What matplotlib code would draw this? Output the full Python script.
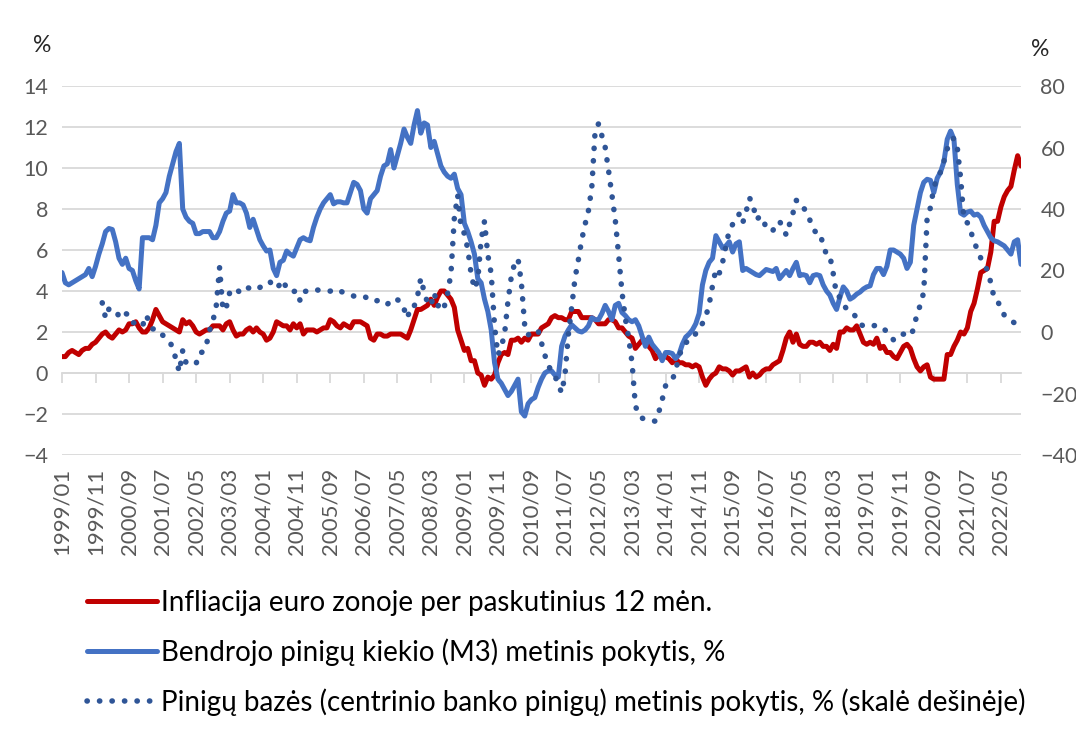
import numpy as np
import pandas as pd
import matplotlib.pyplot as plt

plt.rcParams['font.family'] = ['Lato', 'DejaVu Sans']

# --- data (monthly, 1999/01 .. 2022/11) ---
months = pd.period_range('1999-01', '2022-11', freq='M')
month_labels = [p.strftime('%Y/%m') for p in months]

# HICP inflation, % (left axis)
inflation = [
    0.8, 0.8, 1.0, 1.1, 1.0, 0.9, 1.1, 1.2, 1.2, 1.4, 1.5, 1.7,
    1.9, 2.0, 1.8, 1.7, 1.9, 2.1, 2.0, 2.1, 2.4, 2.4, 2.5, 2.2,
    2.0, 2.0, 2.2, 2.6, 3.1, 2.8, 2.5, 2.4, 2.3, 2.2, 2.1, 2.0,
    2.6, 2.4, 2.5, 2.3, 2.0, 1.9, 2.0, 2.1, 2.1, 2.3, 2.3, 2.3,
    2.1, 2.4, 2.5, 2.1, 1.8, 1.9, 1.9, 2.1, 2.2, 2.0, 2.2, 2.0,
    1.9, 1.6, 1.7, 2.0, 2.5, 2.4, 2.3, 2.3, 2.1, 2.4, 2.2, 2.4,
    1.9, 2.1, 2.1, 2.1, 2.0, 2.1, 2.2, 2.2, 2.6, 2.5, 2.3, 2.2,
    2.4, 2.3, 2.2, 2.5, 2.5, 2.5, 2.4, 2.3, 1.7, 1.6, 1.9, 1.9,
    1.8, 1.8, 1.9, 1.9, 1.9, 1.9, 1.8, 1.7, 2.1, 2.6, 3.1, 3.1,
    3.2, 3.3, 3.6, 3.3, 3.7, 4.0, 4.0, 3.8, 3.6, 3.2, 2.1, 1.6,
    1.1, 1.2, 0.6, 0.6, 0.0, -0.1, -0.6, -0.2, -0.3, -0.1, 0.5, 0.9,
    1.0, 0.9, 1.6, 1.6, 1.7, 1.5, 1.7, 1.6, 1.9, 1.9, 1.9, 2.2,
    2.3, 2.4, 2.7, 2.8, 2.7, 2.7, 2.6, 2.6, 3.0, 3.0, 3.0, 2.7,
    2.7, 2.7, 2.7, 2.6, 2.4, 2.4, 2.4, 2.6, 2.6, 2.5, 2.2, 2.2,
    2.0, 1.8, 1.7, 1.2, 1.4, 1.6, 1.6, 1.3, 1.1, 0.7, 0.9, 0.8,
    0.8, 0.7, 0.5, 0.7, 0.5, 0.5, 0.4, 0.4, 0.3, 0.4, 0.3, -0.2,
    -0.6, -0.3, -0.1, 0.0, 0.3, 0.2, 0.2, 0.1, -0.1, 0.1, 0.1, 0.2,
    0.3, -0.2, 0.0, -0.2, -0.1, 0.1, 0.2, 0.2, 0.4, 0.5, 0.6, 1.1,
    1.7, 2.0, 1.5, 1.9, 1.4, 1.3, 1.3, 1.5, 1.5, 1.4, 1.5, 1.3,
    1.3, 1.1, 1.4, 1.2, 2.0, 2.0, 2.2, 2.1, 2.1, 2.3, 1.9, 1.5,
    1.4, 1.5, 1.4, 1.7, 1.2, 1.3, 1.0, 1.0, 0.8, 0.7, 1.0, 1.3,
    1.4, 1.2, 0.7, 0.3, 0.1, 0.3, 0.4, -0.2, -0.3, -0.3, -0.3, -0.3,
    0.9, 0.9, 1.3, 1.6, 2.0, 1.9, 2.2, 3.0, 3.4, 4.1, 4.9, 5.0,
    5.1, 5.9, 7.4, 7.4, 8.1, 8.6, 8.9, 9.1, 9.9, 10.6, 10.1,
]

# M3 annual growth, % (left axis)
m3_growth = [
    4.9, 4.4, 4.3, 4.4, 4.5, 4.6, 4.7, 4.8, 5.1, 4.7, 5.2, 5.8,
    6.3, 6.9, 7.05, 7.0, 6.4, 5.6, 5.3, 5.6, 5.1, 5.0, 4.5, 4.1,
    6.6, 6.6, 6.6, 6.5, 7.2, 8.3, 8.5, 8.8, 9.6, 10.2, 10.8, 11.2,
    8.0, 7.6, 7.4, 7.3, 6.8, 6.8, 6.9, 6.9, 6.9, 6.6, 6.6, 6.9,
    7.4, 7.8, 7.9, 8.7, 8.3, 8.3, 8.2, 7.8, 7.1, 7.5, 7.0, 6.5,
    6.2, 5.95, 6.0, 5.1, 4.75, 5.4, 5.5, 5.95, 5.8, 5.7, 6.1, 6.5,
    6.6, 6.5, 6.45, 7.1, 7.6, 8.0, 8.3, 8.5, 8.7, 8.25, 8.35, 8.35,
    8.3, 8.3, 8.8, 9.3, 9.2, 8.9, 8.0, 7.8, 8.5, 8.7, 8.9, 9.6,
    10.1, 10.2, 10.9, 10.0, 10.6, 11.2, 11.9, 11.5, 11.2, 12.1, 12.8, 11.7,
    12.2, 12.1, 11.0, 11.3, 10.7, 10.1, 9.8, 9.6, 9.5, 9.7, 9.0, 8.7,
    7.3, 6.9, 6.4, 5.8, 4.6, 4.4, 3.6, 3.0, 2.1, 0.5, -0.3, -0.5,
    -0.8, -1.1, -0.9, -0.6, -0.3, -1.9, -2.1, -1.5, -1.3, -1.2, -0.7, -0.3,
    0.0, 0.1, 0.1, -0.1, -0.2, 1.3, 1.8, 2.1, 2.35, 2.2, 2.05, 2.0,
    2.1, 2.3, 2.7, 2.6, 2.6, 2.9, 3.3, 3.0, 2.6, 3.3, 3.4, 2.95,
    2.8, 2.6, 2.5, 2.6, 2.3, 1.8, 1.3, 1.75, 1.4, 1.2, 1.0, 0.6,
    1.0, 1.0, 0.95, 0.7, 0.9, 1.4, 1.75, 1.9, 2.1, 2.4, 2.9, 4.3,
    5.0, 5.4, 5.6, 6.7, 6.4, 6.1, 6.2, 6.4, 5.9, 6.3, 6.4, 5.0,
    5.1, 5.0, 4.9, 4.8, 4.75, 4.9, 5.05, 5.0, 4.95, 5.1, 4.6, 4.8,
    5.0, 4.75, 5.1, 5.4, 4.75, 4.8, 4.75, 4.4, 4.75, 4.8, 4.75, 4.3,
    4.0, 3.8, 3.4, 3.1, 3.7, 4.2, 4.0, 3.6, 3.7, 3.85, 3.95, 4.1,
    4.2, 4.25, 4.8, 5.1, 5.1, 4.8, 5.2, 6.0, 6.0, 5.9, 5.8, 5.6,
    5.1, 5.4, 7.2, 8.0, 8.8, 9.3, 9.45, 9.4, 8.8, 9.5, 9.8, 10.3,
    11.4, 11.8, 11.4, 9.2, 7.8, 7.7, 7.85, 7.9, 7.7, 7.75, 7.6, 7.2,
    6.9, 6.6, 6.45, 6.4, 6.3, 6.2, 6.0, 5.8, 6.4, 6.5, 5.3,
]

# monetary base annual growth, % (right axis), 2000/01 .. 2022/10
base_growth = [
    9.5, 4.5, 7.5, 7.3, 7.2, 5.0, 4.5, 6.0, 5.5, 3.0, 3.0, 2.5,
    1.8, 5.5, 3.5, 1.0, 1.0, 0.5, -1.0, -2.0, -3.0, -5.0, -9.0, -13.0,
    -6.0, -10.0, -10.0, -10.5, -10.3, -6.8, -6.5, -4.5, 0.5, 3.5, 8.5, 21.0,
    7.0, 8.0, 12.8, 13.5, 14.2, 12.8, 13.5, 14.5, 14.2, 14.0, 13.7, 14.5,
    15.0, 15.5, 16.4, 14.8, 14.2, 15.5, 16.9, 13.9, 13.5, 13.1, 13.5, 10.2,
    13.1, 13.3, 13.6, 13.9, 13.7, 13.5, 13.4, 13.3, 13.3, 13.6, 13.9, 13.3,
    12.8, 12.5, 12.0, 11.7, 11.7, 11.7, 11.7, 11.0, 10.5, 9.9, 10.2, 10.4,
    9.8, 9.0, 10.0, 11.0, 10.5, 9.9, 7.5, 4.5, 8.2, 8.3, 11.5, 17.5,
    13.0, 9.5, 8.5, 12.8, 8.2, 9.9, 8.2, 12.6, 19.0, 37.0, 44.5, 34.0,
    32.0, 27.0, 19.0, 14.0, 17.0, 30.0, 36.0, 25.0, 19.0, 2.0, -7.5, -5.0,
    -0.5, 10.0, 18.0, 22.5, 23.8, 16.0, 2.0, -1.0, 0.0, 0.6, 0.4, -3.5,
    -7.5, -11.0, -12.5, -14.3, -17.0, -19.8, -14.0, -1.0, 8.0, 17.5, 23.5, 30.0,
    35.0, 39.5, 47.0, 65.5, 67.7, 63.9, 60.0, 52.5, 44.5, 36.5, 25.0, 13.0,
    4.4, -2.0, -10.0, -24.0, -27.0, -28.0, -28.5, -28.7, -28.9, -29.0, -26.0, -22.0,
    -17.5, -16.5, -15.7, -12.5, -8.0, -5.0, -3.5, -2.8, -2.2, -0.5, 1.2, 2.8,
    5.0, 9.0, 15.0, 20.4, 19.0, 22.6, 28.0, 33.0, 35.0, 36.0, 38.5, 35.5,
    39.0, 43.6, 42.0, 36.5, 37.4, 37.4, 33.5, 33.0, 33.0, 35.0, 36.0, 34.0,
    31.5, 35.2, 38.7, 42.8, 42.5, 41.0, 38.5, 36.5, 33.5, 32.2, 32.2, 28.4,
    25.1, 24.8, 19.0, 12.0, 11.3, 9.0, 7.5, 6.5, 6.0, 4.5, 2.5, 2.0,
    1.8, 1.7, 2.0, 2.3, 1.8, 1.0, 0.2, -1.2, -2.6, -1.5, -0.7, -0.7,
    -1.0, -1.3, 1.0, 6.0, 8.8, 13.0, 37.0, 40.5, 47.0, 50.0, 52.0, 55.5,
    59.5, 62.5, 63.0, 60.0, 50.0, 36.5, 35.5, 33.0, 29.0, 27.0, 24.0, 22.0,
    20.0, 16.0, 11.0, 10.0, 8.0, 5.5, 4.5, 3.7, 3.0,
]

labels = [
    'Infliacija euro zonoje per paskutinius 12 mėn.',
    'Bendrojo pinigų kiekio (M3) metinis pokytis, %',
    'Pinigų bazės (centrinio banko pinigų) metinis pokytis, % (skalė dešinėje)',
]

n = len(months)
x = np.arange(n)
base = np.full(n, np.nan)
base[12:12 + len(base_growth)] = base_growth

grey = '#595959'
grid_c = '#D9D9D9'

fig = plt.figure(figsize=(10.76, 7.34), dpi=100)
ax = fig.add_axes([62 / 1076, 1 - 455 / 734, 959 / 1076, 369 / 734])
ax2 = ax.twinx()

l1, = ax.plot(x, inflation, color='#C00000', lw=3.6, solid_joinstyle='round',
              solid_capstyle='round', zorder=3)
l2, = ax.plot(x, m3_growth, color='#4472C4', lw=3.6, solid_joinstyle='round',
              solid_capstyle='round', zorder=3)
l3, = ax2.plot(x, base, color='#2F5597', lw=4.0, linestyle=(0, (0.05, 2.2)),
               dash_capstyle='round')

ax.set_xlim(0, n - 1)
ax.set_ylim(-4, 14)
ax.set_yticks(np.arange(-4, 15, 2))
ax2.set_ylim(-40, 80)
ax2.set_yticks(np.arange(-40, 81, 20))

ax.grid(axis='y', color=grid_c, lw=1.3)
ax.set_axisbelow(True)
for a in (ax, ax2):
    for s in a.spines.values():
        s.set_visible(False)
ax.tick_params(axis='y', length=0, pad=10, labelsize=15.5, labelcolor=grey)
ax2.tick_params(axis='y', length=0, pad=14, labelsize=15.5, labelcolor=grey)

tick_pos = x[::10]
ax.set_xticks(tick_pos)
ax.set_xticklabels([month_labels[i] for i in tick_pos], rotation=90,
                   fontsize=16, color=grey)
ax.tick_params(axis='x', length=0, pad=9)

# category axis drawn at y = 0
sec = ax.secondary_xaxis(4 / 18)
sec.set_xticks(tick_pos)
sec.tick_params(axis='x', length=7, width=1.3, color=grid_c, labelbottom=False)
sec.spines['bottom'].set_color(grid_c)
sec.spines['bottom'].set_linewidth(1.3)

fig.text(42 / 1076, 1 - 45 / 734, '%', fontsize=16.5, color='#262626',
         ha='center', va='center')
fig.text(1040 / 1076, 1 - 50 / 734, '%', fontsize=16.5, color='#262626',
         ha='center', va='center')

fig.legend([l1, l2, l3], labels, loc='upper left',
           bbox_to_anchor=(76 / 1076, 1 - 579 / 734), frameon=False,
           fontsize=20, handlelength=2.5, handletextpad=0.15,
           labelspacing=0.8, borderaxespad=0)

fig.savefig('out.png', dpi=100)
